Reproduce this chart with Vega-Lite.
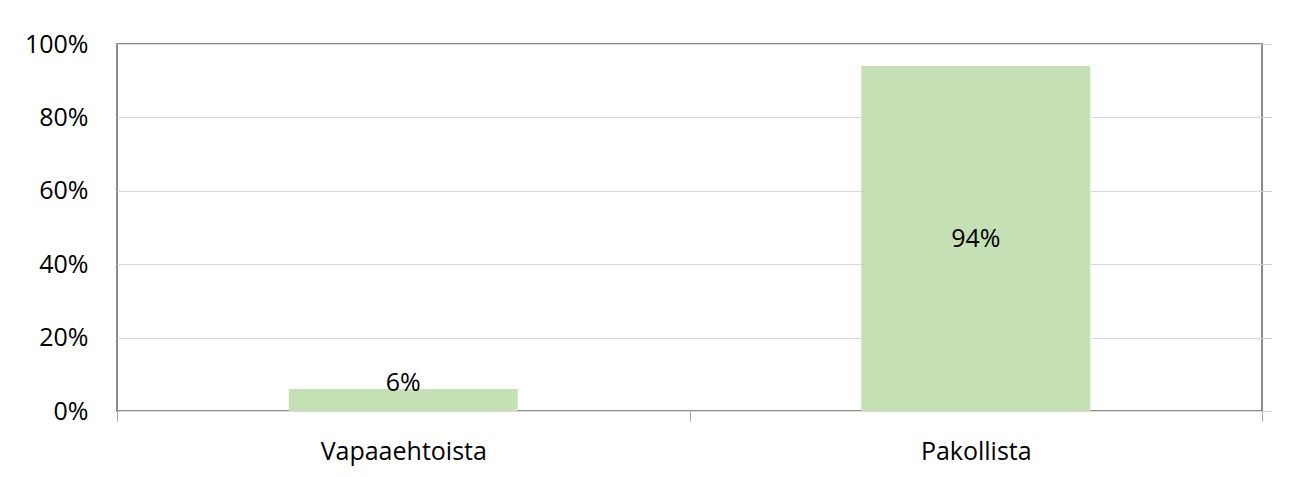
{
  "$schema": "https://vega.github.io/schema/vega-lite/v6.json",
  "autosize": "none",
  "width": 1145,
  "height": 367,
  "padding": {"left": 117, "top": 44, "right": 29, "bottom": 66},
  "background": "white",
  "config": {
    "font": "Open Sans",
    "view": {"stroke": "#8c8c8c", "strokeWidth": 2},
    "axis": {"labelFont": "Open Sans", "labelFontSize": 25, "labelColor": "#000000"}
  },
  "data": {
    "values": [
      {"kategoria": "Vapaaehtoista", "osuus": 0.06},
      {"kategoria": "Pakollista", "osuus": 0.94}
    ]
  },
  "encoding": {
    "x": {
      "field": "kategoria",
      "type": "nominal",
      "sort": null,
      "title": null,
      "scale": {"paddingInner": 0, "paddingOuter": 0},
      "axis": {
        "labelAngle": 0,
        "domain": false,
        "tickBand": "extent",
        "tickSize": 10,
        "tickColor": "#a6a6a6",
        "labelPadding": 18,
        "grid": false
      }
    }
  },
  "layer": [
    {
      "mark": {"type": "bar", "color": "#c5e0b4", "width": {"band": 0.4}},
      "encoding": {
        "y": {
          "field": "osuus",
          "type": "quantitative",
          "title": null,
          "scale": {"domain": [0, 1], "nice": false},
          "axis": {
            "format": ".0%",
            "values": [0, 0.2, 0.4, 0.6, 0.8, 1],
            "domain": false,
            "ticks": false,
            "labelPadding": 29,
            "grid": true,
            "gridColor": "#d9d9d9",
            "gridWidth": 1
          }
        }
      }
    },
    {
      "transform": [{"calculate": "max(datum.osuus / 2, 0.076)", "as": "tekstinpaikka"}],
      "mark": {"type": "text", "fontSize": 25, "font": "Open Sans", "color": "#000000", "baseline": "middle"},
      "encoding": {
        "y": {
          "field": "tekstinpaikka",
          "type": "quantitative",
          "scale": {"domain": [0, 1], "nice": false},
          "axis": {
            "orient": "right",
            "values": [0, 0.2, 0.4, 0.6, 0.8, 1],
            "labels": false,
            "domain": false,
            "grid": false,
            "ticks": true,
            "tickSize": 9,
            "tickColor": "#c8c8c8",
            "title": null
          }
        },
        "text": {"field": "osuus", "type": "quantitative", "format": ".0%"}
      }
    }
  ],
  "resolve": {"axis": {"y": "independent"}}
}
